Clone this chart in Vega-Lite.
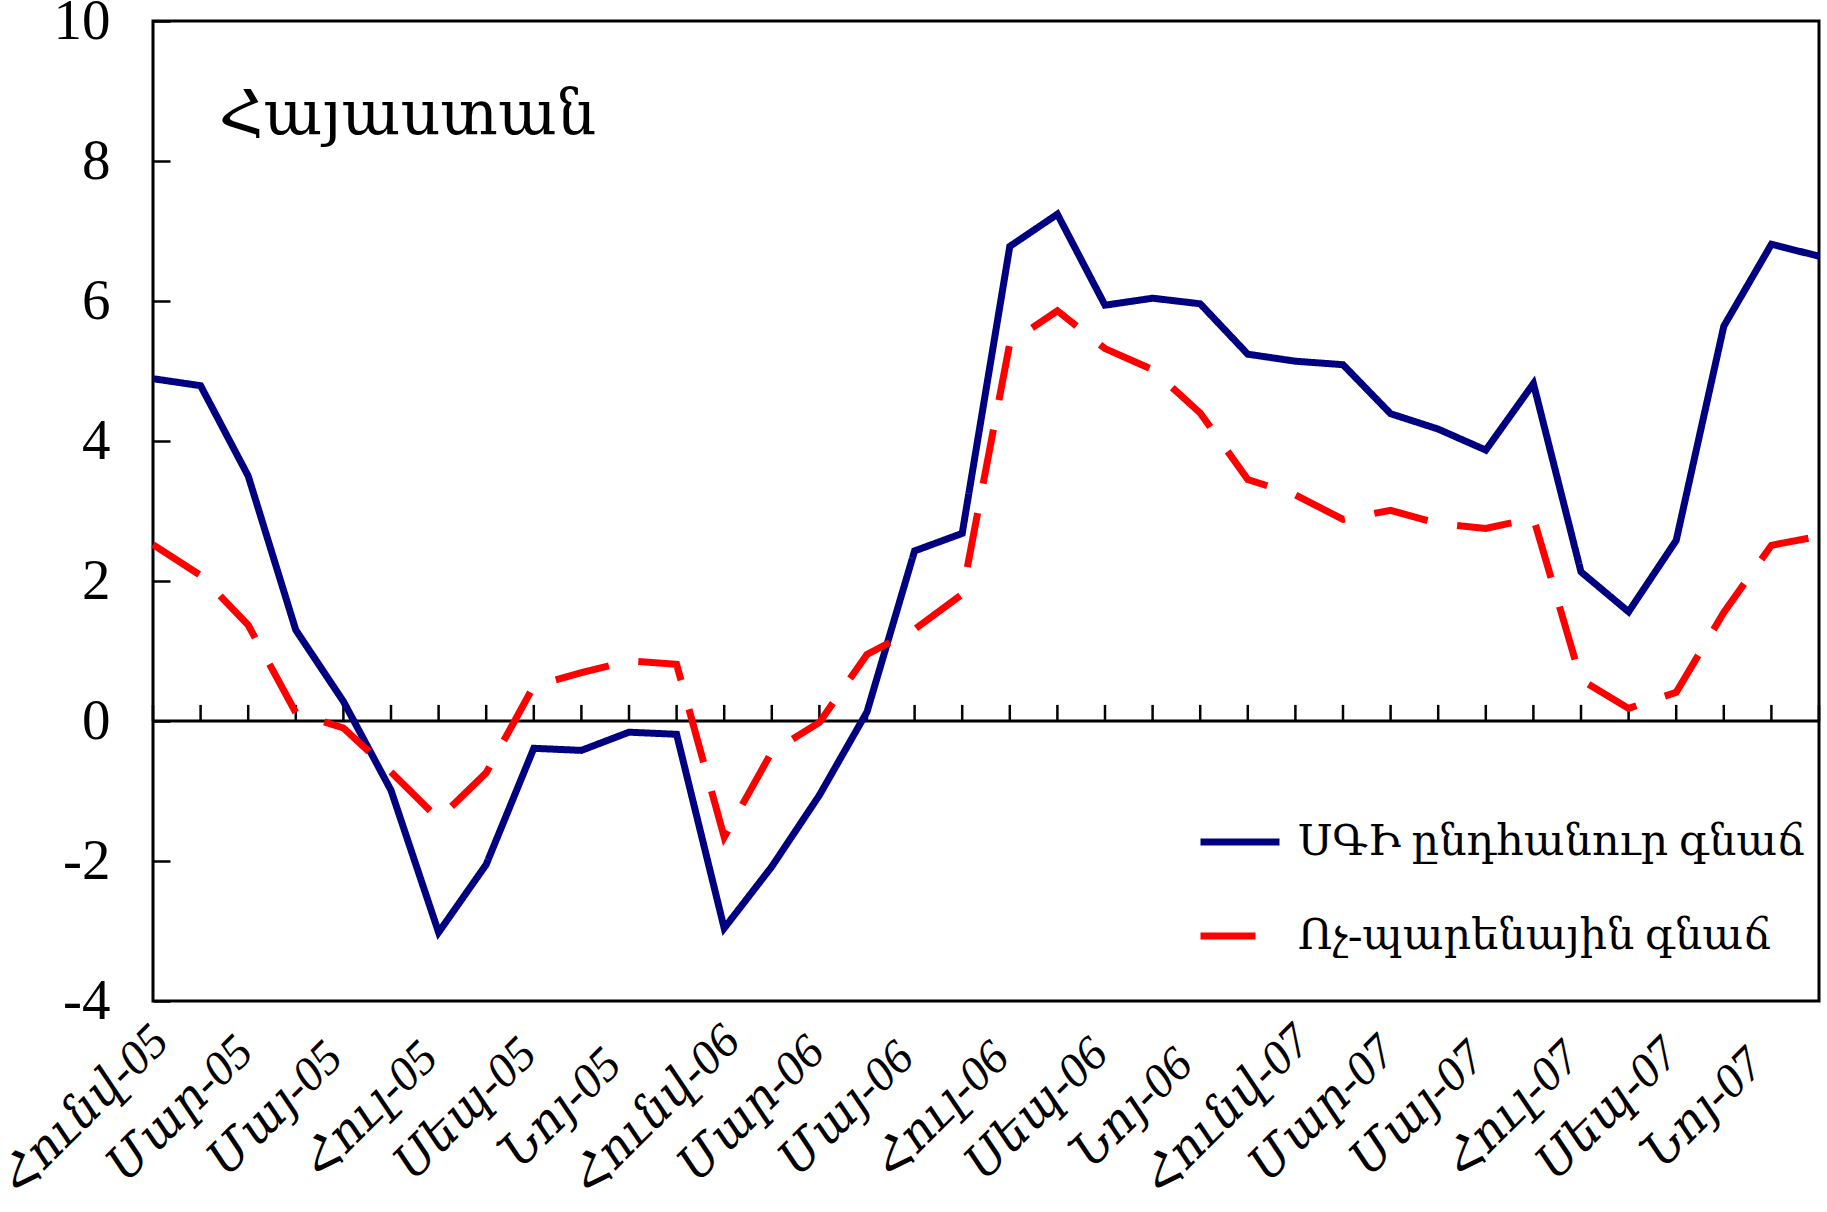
{
  "$schema": "https://vega.github.io/schema/vega-lite/v6.json",
  "width": 1666,
  "height": 980,
  "autosize": {"type": "none"},
  "padding": {"left": 153, "top": 21, "right": 8, "bottom": 211},
  "background": "white",
  "config": {
    "view": {"stroke": "black", "strokeWidth": 3},
    "font": "Liberation Serif, DejaVu Serif, serif"
  },
  "data": {
    "values": [
      {"m": "Հունվ-05", "s": "ՍԳԻ ընդհանուր գնաճ", "v": 4.89},
      {"m": "Փետր-05", "s": "ՍԳԻ ընդհանուր գնաճ", "v": 4.79},
      {"m": "Մար-05", "s": "ՍԳԻ ընդհանուր գնաճ", "v": 3.50},
      {"m": "Ապր-05", "s": "ՍԳԻ ընդհանուր գնաճ", "v": 1.30},
      {"m": "Մայ-05", "s": "ՍԳԻ ընդհանուր գնաճ", "v": 0.28},
      {"m": "Հուն-05", "s": "ՍԳԻ ընդհանուր գնաճ", "v": -0.99},
      {"m": "Հուլ-05", "s": "ՍԳԻ ընդհանուր գնաճ", "v": -3.02},
      {"m": "Օգոս-05", "s": "ՍԳԻ ընդհանուր գնաճ", "v": -2.05},
      {"m": "Սեպ-05", "s": "ՍԳԻ ընդհանուր գնաճ", "v": -0.39},
      {"m": "Հոկ-05", "s": "ՍԳԻ ընդհանուր գնաճ", "v": -0.42},
      {"m": "Նոյ-05", "s": "ՍԳԻ ընդհանուր գնաճ", "v": -0.16},
      {"m": "Դեկ-05", "s": "ՍԳԻ ընդհանուր գնաճ", "v": -0.19},
      {"m": "Հունվ-06", "s": "ՍԳԻ ընդհանուր գնաճ", "v": -2.96},
      {"m": "Փետր-06", "s": "ՍԳԻ ընդհանուր գնաճ", "v": -2.08},
      {"m": "Մար-06", "s": "ՍԳԻ ընդհանուր գնաճ", "v": -1.06},
      {"m": "Ապր-06", "s": "ՍԳԻ ընդհանուր գնաճ", "v": 0.13},
      {"m": "Մայ-06", "s": "ՍԳԻ ընդհանուր գնաճ", "v": 2.43},
      {"m": "Հուն-06", "s": "ՍԳԻ ընդհանուր գնաճ", "v": 2.68},
      {"m": "Հուլ-06", "s": "ՍԳԻ ընդհանուր գնաճ", "v": 6.78},
      {"m": "Օգոս-06", "s": "ՍԳԻ ընդհանուր գնաճ", "v": 7.24},
      {"m": "Սեպ-06", "s": "ՍԳԻ ընդհանուր գնաճ", "v": 5.94},
      {"m": "Հոկ-06", "s": "ՍԳԻ ընդհանուր գնաճ", "v": 6.04},
      {"m": "Նոյ-06", "s": "ՍԳԻ ընդհանուր գնաճ", "v": 5.96},
      {"m": "Դեկ-06", "s": "ՍԳԻ ընդհանուր գնաճ", "v": 5.24},
      {"m": "Հունվ-07", "s": "ՍԳԻ ընդհանուր գնաճ", "v": 5.14},
      {"m": "Փետր-07", "s": "ՍԳԻ ընդհանուր գնաճ", "v": 5.09},
      {"m": "Մար-07", "s": "ՍԳԻ ընդհանուր գնաճ", "v": 4.39},
      {"m": "Ապր-07", "s": "ՍԳԻ ընդհանուր գնաճ", "v": 4.17},
      {"m": "Մայ-07", "s": "ՍԳԻ ընդհանուր գնաճ", "v": 3.87},
      {"m": "Հուն-07", "s": "ՍԳԻ ընդհանուր գնաճ", "v": 4.82},
      {"m": "Հուլ-07", "s": "ՍԳԻ ընդհանուր գնաճ", "v": 2.13},
      {"m": "Օգոս-07", "s": "ՍԳԻ ընդհանուր գնաճ", "v": 1.56},
      {"m": "Սեպ-07", "s": "ՍԳԻ ընդհանուր գնաճ", "v": 2.58},
      {"m": "Հոկ-07", "s": "ՍԳԻ ընդհանուր գնաճ", "v": 5.64},
      {"m": "Նոյ-07", "s": "ՍԳԻ ընդհանուր գնաճ", "v": 6.81},
      {"m": "Դեկ-07", "s": "ՍԳԻ ընդհանուր գնաճ", "v": 6.64},
      {"m": "Հունվ-05", "s": "Ոչ-պարենային գնաճ", "v": 2.52},
      {"m": "Փետր-05", "s": "Ոչ-պարենային գնաճ", "v": 2.08},
      {"m": "Մար-05", "s": "Ոչ-պարենային գնաճ", "v": 1.37},
      {"m": "Ապր-05", "s": "Ոչ-պարենային գնաճ", "v": 0.12},
      {"m": "Մայ-05", "s": "Ոչ-պարենային գնաճ", "v": -0.10},
      {"m": "Հուն-05", "s": "Ոչ-պարենային գնաճ", "v": -0.73},
      {"m": "Հուլ-05", "s": "Ոչ-պարենային գնաճ", "v": -1.40},
      {"m": "Օգոս-05", "s": "Ոչ-պարենային գնաճ", "v": -0.74},
      {"m": "Սեպ-05", "s": "Ոչ-պարենային գնաճ", "v": 0.50},
      {"m": "Հոկ-05", "s": "Ոչ-պարենային գնաճ", "v": 0.69},
      {"m": "Նոյ-05", "s": "Ոչ-պարենային գնաճ", "v": 0.86},
      {"m": "Դեկ-05", "s": "Ոչ-պարենային գնաճ", "v": 0.81},
      {"m": "Հունվ-06", "s": "Ոչ-պարենային գնաճ", "v": -1.66},
      {"m": "Փետր-06", "s": "Ոչ-պարենային գնաճ", "v": -0.44},
      {"m": "Մար-06", "s": "Ոչ-պարենային գնաճ", "v": -0.02},
      {"m": "Ապր-06", "s": "Ոչ-պարենային գնաճ", "v": 0.95},
      {"m": "Մայ-06", "s": "Ոչ-պարենային գնաճ", "v": 1.31},
      {"m": "Հուն-06", "s": "Ոչ-պարենային գնաճ", "v": 1.81},
      {"m": "Հուլ-06", "s": "Ոչ-պարենային գնաճ", "v": 5.40},
      {"m": "Օգոս-06", "s": "Ոչ-պարենային գնաճ", "v": 5.86},
      {"m": "Սեպ-06", "s": "Ոչ-պարենային գնաճ", "v": 5.32},
      {"m": "Հոկ-06", "s": "Ոչ-պարենային գնաճ", "v": 5.02},
      {"m": "Նոյ-06", "s": "Ոչ-պարենային գնաճ", "v": 4.40},
      {"m": "Դեկ-06", "s": "Ոչ-պարենային գնաճ", "v": 3.45},
      {"m": "Հունվ-07", "s": "Ոչ-պարենային գնաճ", "v": 3.23},
      {"m": "Փետր-07", "s": "Ոչ-պարենային գնաճ", "v": 2.88},
      {"m": "Մար-07", "s": "Ոչ-պարենային գնաճ", "v": 3.01},
      {"m": "Ապր-07", "s": "Ոչ-պարենային գնաճ", "v": 2.82},
      {"m": "Մայ-07", "s": "Ոչ-պարենային գնաճ", "v": 2.75},
      {"m": "Հուն-07", "s": "Ոչ-պարենային գնաճ", "v": 2.90},
      {"m": "Հուլ-07", "s": "Ոչ-պարենային գնաճ", "v": 0.59},
      {"m": "Օգոս-07", "s": "Ոչ-պարենային գնաճ", "v": 0.18},
      {"m": "Սեպ-07", "s": "Ոչ-պարենային գնաճ", "v": 0.41},
      {"m": "Հոկ-07", "s": "Ոչ-պարենային գնաճ", "v": 1.55},
      {"m": "Նոյ-07", "s": "Ոչ-պարենային գնաճ", "v": 2.51},
      {"m": "Դեկ-07", "s": "Ոչ-պարենային գնաճ", "v": 2.64}
    ]
  },
  "layer": [
    {
      "data": {"values": [{}]},
      "mark": {"type": "rule", "color": "black", "strokeWidth": 3},
      "encoding": {"y": {"datum": 0}}
    },
    {
      "transform": [{"filter": "datum.s === 'ՍԳԻ ընդհանուր գնաճ'"}],
      "mark": {"type": "rule", "color": "black", "strokeWidth": 2.5},
      "encoding": {
        "x": {"field": "m", "type": "ordinal"},
        "y": {"datum": 0},
        "y2": {"datum": 0.23}
      }
    },
    {
      "mark": {"type": "line", "strokeWidth": 7, "strokeCap": "butt", "strokeJoin": "miter"},
      "encoding": {
        "x": {
          "field": "m",
          "type": "ordinal",
          "sort": null,
          "scale": {
            "type": "point",
            "padding": 0,
            "domain": ["Հունվ-05","Փետր-05","Մար-05","Ապր-05","Մայ-05","Հուն-05","Հուլ-05","Օգոս-05","Սեպ-05","Հոկ-05","Նոյ-05","Դեկ-05","Հունվ-06","Փետր-06","Մար-06","Ապր-06","Մայ-06","Հուն-06","Հուլ-06","Օգոս-06","Սեպ-06","Հոկ-06","Նոյ-06","Դեկ-06","Հունվ-07","Փետր-07","Մար-07","Ապր-07","Մայ-07","Հուն-07","Հուլ-07","Օգոս-07","Սեպ-07","Հոկ-07","Նոյ-07","Դեկ-07"]
          },
          "axis": {
            "values": ["Հունվ-05","Մար-05","Մայ-05","Հուլ-05","Սեպ-05","Նոյ-05","Հունվ-06","Մար-06","Մայ-06","Հուլ-06","Սեպ-06","Նոյ-06","Հունվ-07","Մար-07","Մայ-07","Հուլ-07","Սեպ-07","Նոյ-07"],
            "title": null,
            "ticks": false,
            "domain": false,
            "grid": false,
            "labelAngle": -45,
            "labelAlign": "center",
            "labelBaseline": "middle",
            "labelFontSize": 48,
            "labelFontStyle": "italic",
            "labelColor": "black",
            "labelPadding": 108,
            "labelOffset": -68,
            "labelLimit": 500,
            "labelOverlap": false,
            "labelBound": false
          }
        },
        "y": {
          "field": "v",
          "type": "quantitative",
          "scale": {"domain": [-4, 10], "nice": false, "zero": false},
          "axis": {
            "values": [-4, -2, 0, 2, 4, 6, 8, 10],
            "labelExpr": "datum.value < 0 ? '-' + abs(datum.value) : '' + datum.value",
            "title": null,
            "grid": false,
            "domain": false,
            "tickSize": -17,
            "tickWidth": 2.5,
            "tickColor": "black",
            "labelFontSize": 57,
            "labelColor": "black",
            "labelPadding": 60
          }
        },
        "color": {
          "field": "s",
          "type": "nominal",
          "scale": {"domain": ["ՍԳԻ ընդհանուր գնաճ", "Ոչ-պարենային գնաճ"], "range": ["#000080", "#FF0000"]},
          "legend": {
            "orient": "none",
            "legendX": 1044,
            "legendY": 778,
            "title": null,
            "symbolType": "stroke",
            "symbolSize": 6241,
            "symbolStrokeWidth": 7,
            "labelFontSize": 43,
            "labelOffset": 15,
            "labelColor": "black",
            "labelLimit": 800,
            "rowPadding": 29,
            "padding": 0
          }
        },
        "strokeDash": {
          "field": "s",
          "type": "nominal",
          "scale": {"domain": ["ՍԳԻ ընդհանուր գնաճ", "Ոչ-պարենային գնաճ"], "range": [[1, 0], [55, 30]]},
          "legend": {
            "orient": "none",
            "legendX": 1044,
            "legendY": 778,
            "title": null,
            "symbolType": "stroke",
            "symbolSize": 6241,
            "symbolStrokeWidth": 7,
            "labelFontSize": 43,
            "labelOffset": 15,
            "labelColor": "black",
            "labelLimit": 800,
            "rowPadding": 29,
            "padding": 0
          }
        }
      }
    },
    {
      "data": {"values": [{"t": "Հայաստան"}]},
      "mark": {"type": "text", "align": "left", "baseline": "alphabetic", "dx": 66, "fontSize": 62, "color": "black"},
      "encoding": {
        "text": {"field": "t"},
        "x": {"datum": "Հունվ-05"},
        "y": {"datum": 8.386}
      }
    }
  ]
}
